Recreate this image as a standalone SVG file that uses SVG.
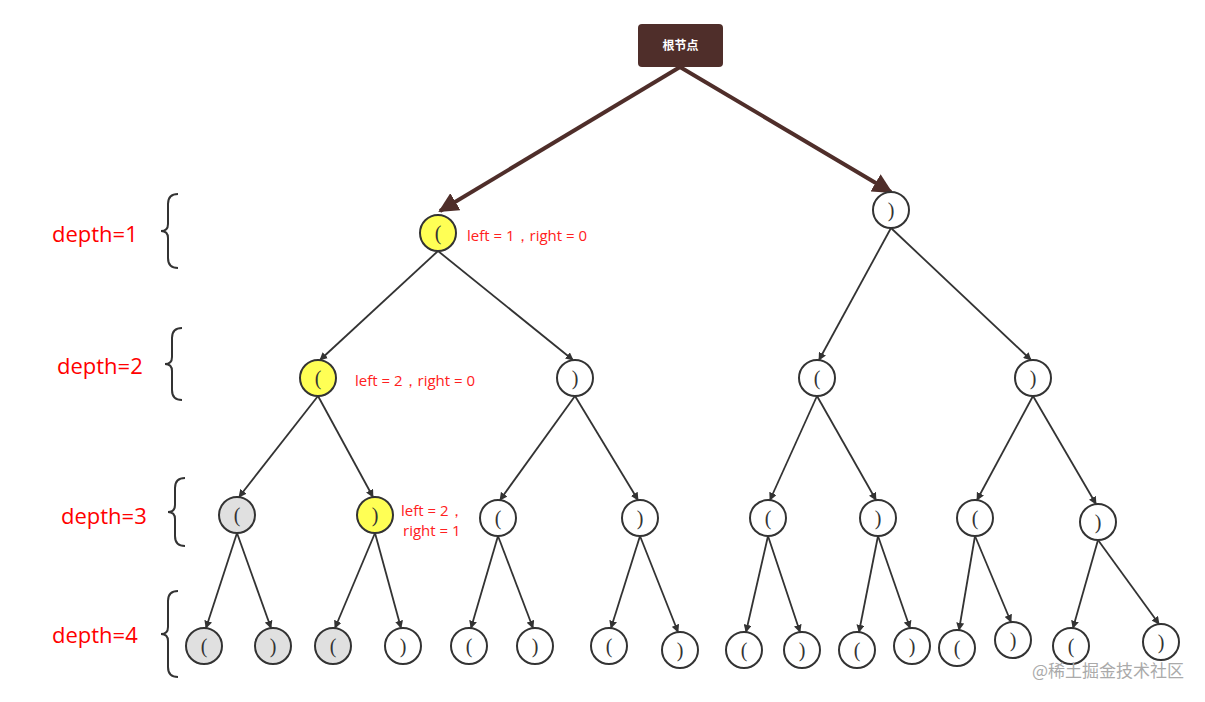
<svg xmlns="http://www.w3.org/2000/svg" width="1205" height="702" viewBox="0 0 1205 702">
<style>
.n{stroke:#333;stroke-width:2;fill:#fff}
.y{fill:#ffff55}
.g{fill:#e0e0e0}
.p{font-family:"Liberation Serif",serif;font-size:20px;fill:#333;text-anchor:middle}
.e{stroke:#333;stroke-width:1.8;fill:none;marker-end:url(#a)}
.d{font-family:"Open Sans","Liberation Sans",sans-serif;font-size:22px;fill:#ff0000}
.l{font-family:"Open Sans","Liberation Sans",sans-serif;font-size:15px;fill:#ff2020}
.b{stroke:#333;stroke-width:2;fill:none}
</style>
<defs>
<marker id="a" viewBox="0 0 10 10" refX="9" refY="5" markerWidth="8" markerHeight="8" orient="auto" markerUnits="userSpaceOnUse"><path d="M0,0L10,5L0,10z" fill="#333"/></marker>
<marker id="r" viewBox="0 0 10 10" refX="9" refY="5" markerWidth="5" markerHeight="5" orient="auto"><path d="M0,0L10,5L0,10z" fill="#4f2e2a"/></marker>
</defs>
<rect width="1205" height="702" fill="#fff"/>
<g id="connectors">
<path d="M680,67L440,211" stroke="#4f2e2a" stroke-width="4" fill="none" marker-end="url(#r)"/>
<path d="M680,67L891,192" stroke="#4f2e2a" stroke-width="4" fill="none" marker-end="url(#r)"/>
<path class="e" d="M438,251L320,360"/><path class="e" d="M438,251L573,360"/>
<path class="e" d="M891,228L819,360"/><path class="e" d="M891,228L1031,360"/>
<path class="e" d="M318,396L239,497"/><path class="e" d="M318,396L373,497"/>
<path class="e" d="M575,396L500,500"/><path class="e" d="M575,396L638,500"/>
<path class="e" d="M817,396L770,500"/><path class="e" d="M817,396L876,500"/>
<path class="e" d="M1033,396L977,500"/><path class="e" d="M1033,396L1096,504"/>
<path class="e" d="M237,533L206,628"/><path class="e" d="M237,533L271,628"/>
<path class="e" d="M375,533L335,628"/><path class="e" d="M375,533L401,628"/>
<path class="e" d="M498,536L471,628"/><path class="e" d="M498,536L533,628"/>
<path class="e" d="M640,536L611,628"/><path class="e" d="M640,536L678,632"/>
<path class="e" d="M768,536L746,632"/><path class="e" d="M768,536L800,632"/>
<path class="e" d="M878,536L859,632"/><path class="e" d="M878,536L910,628"/>
<path class="e" d="M975,536L959,630"/><path class="e" d="M975,536L1011,622"/>
<path class="e" d="M1098,540L1073,628"/><path class="e" d="M1098,540L1159,624"/>
</g>
<g id="root"><rect x="638" y="24" width="85" height="43" rx="4" fill="#4f2e2a"/><text x="680.5" y="50" font-family="Noto Sans CJK SC,sans-serif" font-size="12" font-weight="bold" fill="#fff" text-anchor="middle">根节点</text></g>
<g id="n1a"><circle class="n y" cx="438" cy="233" r="18"/><text class="p" x="438" y="240">(</text></g>
<g id="n1b"><circle class="n" cx="891" cy="210" r="18"/><text class="p" x="891" y="217">)</text></g>
<g id="n2a"><circle class="n y" cx="318" cy="378" r="18"/><text class="p" x="318" y="385">(</text></g>
<g id="n2b"><circle class="n" cx="575" cy="378" r="18"/><text class="p" x="575" y="385">)</text></g>
<g id="n2c"><circle class="n" cx="817" cy="378" r="18"/><text class="p" x="817" y="385">(</text></g>
<g id="n2d"><circle class="n" cx="1033" cy="378" r="18"/><text class="p" x="1033" y="385">)</text></g>
<g id="n3a"><circle class="n g" cx="237" cy="515" r="18"/><text class="p" x="237" y="522">(</text></g>
<g id="n3b"><circle class="n y" cx="375" cy="515" r="18"/><text class="p" x="375" y="522">)</text></g>
<g id="n3c"><circle class="n" cx="498" cy="518" r="18"/><text class="p" x="498" y="525">(</text></g>
<g id="n3d"><circle class="n" cx="640" cy="518" r="18"/><text class="p" x="640" y="525">)</text></g>
<g id="n3e"><circle class="n" cx="768" cy="518" r="18"/><text class="p" x="768" y="525">(</text></g>
<g id="n3f"><circle class="n" cx="878" cy="518" r="18"/><text class="p" x="878" y="525">)</text></g>
<g id="n3g"><circle class="n" cx="975" cy="518" r="18"/><text class="p" x="975" y="525">(</text></g>
<g id="n3h"><circle class="n" cx="1098" cy="522" r="18"/><text class="p" x="1098" y="529">)</text></g>
<g id="n4a"><circle class="n g" cx="204" cy="646" r="18"/><text class="p" x="204" y="653">(</text></g>
<g id="n4b"><circle class="n g" cx="273" cy="646" r="18"/><text class="p" x="273" y="653">)</text></g>
<g id="n4c"><circle class="n g" cx="333" cy="646" r="18"/><text class="p" x="333" y="653">(</text></g>
<g id="n4d"><circle class="n" cx="403" cy="646" r="18"/><text class="p" x="403" y="653">)</text></g>
<g id="n4e"><circle class="n" cx="469" cy="646" r="18"/><text class="p" x="469" y="653">(</text></g>
<g id="n4f"><circle class="n" cx="535" cy="646" r="18"/><text class="p" x="535" y="653">)</text></g>
<g id="n4g"><circle class="n" cx="609" cy="646" r="18"/><text class="p" x="609" y="653">(</text></g>
<g id="n4h"><circle class="n" cx="680" cy="650" r="18"/><text class="p" x="680" y="657">)</text></g>
<g id="n4i"><circle class="n" cx="744" cy="650" r="18"/><text class="p" x="744" y="657">(</text></g>
<g id="n4j"><circle class="n" cx="802" cy="650" r="18"/><text class="p" x="802" y="657">)</text></g>
<g id="n4k"><circle class="n" cx="857" cy="650" r="18"/><text class="p" x="857" y="657">(</text></g>
<g id="n4l"><circle class="n" cx="912" cy="646" r="18"/><text class="p" x="912" y="653">)</text></g>
<g id="n4m"><circle class="n" cx="957" cy="648" r="18"/><text class="p" x="957" y="655">(</text></g>
<g id="n4n"><circle class="n" cx="1013" cy="640" r="18"/><text class="p" x="1013" y="647">)</text></g>
<g id="n4o"><circle class="n" cx="1071" cy="646" r="18"/><text class="p" x="1071" y="653">(</text></g>
<g id="n4p"><circle class="n" cx="1161" cy="642" r="18"/><text class="p" x="1161" y="649">)</text></g>
<g id="labels">
<text class="l" x="467" y="241">left = 1，right = 0</text>
<text class="l" x="355" y="386">left = 2，right = 0</text>
<text class="l" x="401" y="516">left = 2，</text>
<text class="l" x="403" y="536">right = 1</text>
<text class="d" x="52" y="242">depth=1</text>
<text class="d" x="57" y="374">depth=2</text>
<text class="d" x="61" y="524">depth=3</text>
<text class="d" x="52" y="643">depth=4</text>
<path class="b" d="M178,194Q168,194 168,204L168,224Q168,231 161,231Q168,231 168,238L168,258Q168,268 178,268"/>
<path class="b" d="M182,328Q172,328 172,338L172,357Q172,364 165,364Q172,364 172,371L172,390Q172,400 182,400"/>
<path class="b" d="M185,478Q175,478 175,488L175,505Q175,512 168,512Q175,512 175,519L175,536Q175,546 185,546"/>
<path class="b" d="M178,591Q168,591 168,601L168,627Q168,634 161,634Q168,634 168,641L168,667Q168,677 178,677"/>
<text x="1184" y="677" font-family="Noto Sans CJK SC,sans-serif" font-size="17" fill="#aaa" text-anchor="end">@稀土掘金技术社区</text>
</g>
</svg>
